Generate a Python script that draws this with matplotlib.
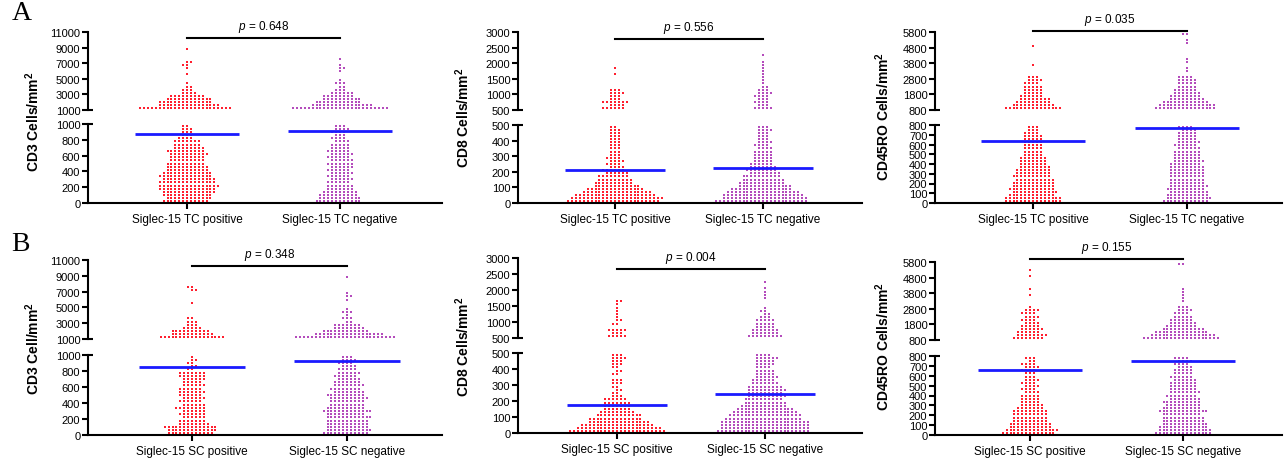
import numpy as np
import matplotlib.pyplot as plt

plt.rcParams['font.family'] = ['Liberation Sans', 'DejaVu Sans']
plt.rcParams['mathtext.fontset'] = 'custom'
plt.rcParams['mathtext.rm'] = 'Liberation Sans'
plt.rcParams['mathtext.it'] = 'Liberation Sans:italic'
plt.rcParams['mathtext.bf'] = 'Liberation Sans:bold'

W, H = 1285, 460

groups_tc = ['Siglec-15 TC positive', 'Siglec-15 TC negative']
groups_sc = ['Siglec-15 SC positive', 'Siglec-15 SC negative']

# y ranges of the broken axes (lower part, upper part)
cd3_low, cd3_high = (0, 1000), (1000, 11000)
cd8_low, cd8_high = (0, 500), (500, 3000)
cd45_low, cd45_high = (0, 800), (800, 5800)

cd3_ticks_low = [0, 200, 400, 600, 800, 1000]
cd3_ticks_high = [1000, 3000, 5000, 7000, 9000, 11000]
cd8_ticks_low = [0, 100, 200, 300, 400, 500]
cd8_ticks_high = [500, 1000, 1500, 2000, 2500, 3000]
cd45_ticks_low = [0, 100, 200, 300, 400, 500, 600, 700, 800]
cd45_ticks_high = [800, 1800, 2800, 3800, 4800, 5800]

# number of cases per row (25 rows per axis part, bottom to top)
cd3_tc_pos_low = [12, 12, 13, 14, 15, 16, 15, 14, 14, 13, 11, 11, 10, 9, 9, 10, 10, 8, 7, 7, 4, 3, 3, 3, 2]
cd3_tc_pos_high = [24, 16, 14, 12, 9, 4, 3, 2, 1, 0, 0, 1, 0, 1, 2, 2, 0, 0, 0, 1, 0, 0, 0, 0, 0]
cd3_tc_neg_low = [12, 11, 10, 9, 7, 7, 6, 6, 6, 6, 6, 6, 7, 6, 6, 6, 6, 5, 5, 4, 4, 3, 4, 4, 3]
cd3_tc_neg_high = [25, 16, 12, 10, 8, 6, 3, 2, 3, 1, 0, 0, 1, 2, 1, 0, 1, 0, 0, 0, 0, 0, 0, 0, 0]

cd8_tc_pos_low = [24, 24, 21, 18, 15, 12, 10, 9, 8, 6, 6, 4, 4, 4, 4, 3, 3, 3, 3, 3, 3, 3, 3, 3, 2]
cd8_tc_pos_high = [6, 4, 7, 3, 3, 4, 3, 0, 0, 0, 0, 1, 0, 1, 0, 0, 0, 0, 0, 0, 0, 0, 0, 0, 0]
cd8_tc_neg_low = [24, 22, 21, 19, 16, 14, 12, 11, 10, 8, 8, 7, 6, 5, 5, 5, 5, 4, 4, 4, 3, 3, 3, 4, 3]
cd8_tc_neg_high = [5, 3, 4, 3, 4, 4, 3, 2, 1, 1, 1, 1, 1, 1, 1, 1, 0, 1, 0, 0, 0, 0, 0, 0, 0]

cd45_tc_pos_low = [15, 15, 12, 12, 12, 11, 11, 10, 10, 9, 9, 8, 7, 7, 7, 5, 5, 5, 5, 5, 5, 5, 4, 3, 3]
cd45_tc_pos_high = [15, 11, 9, 8, 6, 5, 5, 5, 4, 4, 3, 0, 0, 0, 1, 0, 0, 0, 0, 0, 1, 0, 0, 0, 0]
cd45_tc_neg_low = [12, 12, 11, 10, 10, 10, 9, 9, 9, 9, 9, 9, 8, 8, 7, 7, 7, 6, 6, 6, 5, 5, 5, 4, 4]
cd45_tc_neg_high = [16, 15, 12, 9, 8, 7, 6, 5, 5, 5, 4, 0, 1, 1, 0, 1, 1, 0, 0, 0, 0, 1, 1, 0, 2]

cd3_sc_pos_low = [12, 13, 14, 8, 7, 6, 7, 6, 8, 6, 6, 6, 6, 7, 6, 6, 5, 6, 7, 7, 2, 2, 2, 2, 1]
cd3_sc_pos_high = [17, 11, 10, 5, 3, 3, 2, 0, 0, 0, 0, 1, 0, 0, 0, 2, 2, 0, 0, 0, 0, 0, 0, 0, 0]
cd3_sc_neg_low = [12, 12, 11, 11, 11, 12, 10, 13, 10, 9, 9, 10, 10, 8, 8, 8, 7, 6, 6, 6, 5, 4, 4, 4, 3]
cd3_sc_neg_high = [26, 18, 12, 8, 7, 2, 3, 1, 3, 1, 0, 0, 1, 2, 1, 0, 0, 0, 0, 1, 0, 0, 0, 0, 0]

cd8_sc_pos_low = [25, 22, 19, 16, 14, 12, 9, 7, 7, 7, 6, 3, 2, 2, 2, 3, 3, 0, 2, 2, 2, 3, 3, 4, 3]
cd8_sc_pos_high = [5, 3, 5, 0, 2, 2, 1, 1, 1, 1, 1, 2, 0, 0, 0, 0, 0, 0, 0, 0, 0, 0, 0, 0, 0]
cd8_sc_neg_low = [24, 23, 23, 23, 20, 19, 17, 15, 12, 11, 10, 10, 9, 10, 9, 7, 6, 6, 5, 5, 4, 5, 5, 6, 4]
cd8_sc_neg_high = [9, 7, 7, 5, 5, 5, 3, 2, 2, 1, 0, 0, 1, 1, 1, 1, 0, 1, 0, 0, 0, 0, 0, 0, 0]

cd45_sc_pos_low = [14, 14, 11, 11, 9, 9, 9, 9, 7, 6, 5, 5, 5, 4, 4, 4, 4, 4, 3, 3, 4, 4, 4, 2, 3]
cd45_sc_pos_high = [8, 8, 6, 6, 5, 4, 4, 4, 4, 4, 1, 0, 0, 0, 1, 0, 1, 0, 0, 0, 1, 0, 1, 0, 0]
cd45_sc_neg_low = [15, 14, 13, 12, 11, 11, 10, 13, 10, 9, 10, 8, 8, 8, 7, 7, 7, 6, 6, 5, 5, 4, 4, 4, 4]
cd45_sc_neg_high = [20, 17, 14, 11, 8, 7, 6, 5, 4, 4, 3, 0, 1, 1, 1, 1, 1, 0, 0, 0, 0, 0, 0, 0, 2]

# group means (blue lines)
cd3_tc_means = [873, 911]
cd8_tc_means = [212, 226]
cd45_tc_means = [639, 769]
cd3_sc_means = [846, 921]
cd8_sc_means = [175, 246]
cd45_sc_means = [661, 749]

p_values = ['0.648', '0.556', '0.035', '0.348', '0.004', '0.155']

red = '#ff1f2f'
purple = '#b44cbc'
blue = '#1a1aff'


def swarm(counts, rng):
    # one row of dots per count entry, spread on a column grid
    lo, hi = rng
    step = (hi - lo) / len(counts)
    xs, ys = [], []
    for i, n in enumerate(counts):
        sign = 1 if i % 2 else -1
        for k in range(n):
            off = (k + 1) // 2 * (sign if k % 2 else -sign)
            xs.append(off)
            ys.append(lo + (i + 0.5) * step)
    return np.array(xs, dtype=float), np.array(ys)


fig = plt.figure(figsize=(W / 100, H / 100), dpi=100)


def add_axes(x0, x1, top, bot):
    return fig.add_axes([x0 / W, 1 - bot / H, (x1 - x0) / W, (bot - top) / H])


# layout in pixels: axis x, right end, category x, upper part top/bottom, lower part top/bottom,
# y of the p-value bar, y-label position
layout = [
    (88, 442, 187, 340, 33, 111, 125, 204, 39, 33, 122),
    (518, 862, 615, 763, 33, 111, 126, 204, 40, 463, 118),
    (935, 1282, 1033, 1187, 33, 111, 126, 204, 32, 883, 116),
    (88, 442, 192, 347, 261, 340, 356, 436, 267, 33, 349),
    (518, 862, 617, 765, 259, 339, 354, 434, 270, 463, 347),
    (935, 1282, 1030, 1183, 263, 341, 357, 436, 260, 883, 346),
]

panels = [
    ('CD3 Cells/mm', groups_tc, cd3_low, cd3_high, cd3_ticks_low, cd3_ticks_high,
     [(cd3_tc_pos_low, cd3_tc_pos_high), (cd3_tc_neg_low, cd3_tc_neg_high)], cd3_tc_means),
    ('CD8 Cells/mm', groups_tc, cd8_low, cd8_high, cd8_ticks_low, cd8_ticks_high,
     [(cd8_tc_pos_low, cd8_tc_pos_high), (cd8_tc_neg_low, cd8_tc_neg_high)], cd8_tc_means),
    ('CD45RO Cells/mm', groups_tc, cd45_low, cd45_high, cd45_ticks_low, cd45_ticks_high,
     [(cd45_tc_pos_low, cd45_tc_pos_high), (cd45_tc_neg_low, cd45_tc_neg_high)], cd45_tc_means),
    ('CD3 Cell/mm', groups_sc, cd3_low, cd3_high, cd3_ticks_low, cd3_ticks_high,
     [(cd3_sc_pos_low, cd3_sc_pos_high), (cd3_sc_neg_low, cd3_sc_neg_high)], cd3_sc_means),
    ('CD8 Cells/mm', groups_sc, cd8_low, cd8_high, cd8_ticks_low, cd8_ticks_high,
     [(cd8_sc_pos_low, cd8_sc_pos_high), (cd8_sc_neg_low, cd8_sc_neg_high)], cd8_sc_means),
    ('CD45RO Cells/mm', groups_sc, cd45_low, cd45_high, cd45_ticks_low, cd45_ticks_high,
     [(cd45_sc_pos_low, cd45_sc_pos_high), (cd45_sc_neg_low, cd45_sc_neg_high)], cd45_sc_means),
]

for (ylab, cats, rlow, rhigh, tlow, thigh, counts, means), lay, pval in zip(panels, layout, p_values):
    axx, right, c1, c2, ht, hb, lt, lb, bar_px, lab_x, lab_y = lay
    unit = c2 - c1
    xlim = (1 - (c1 - axx) / unit, 1 + (right - c1) / unit)
    dx = 3.9 / unit

    ax_hi = add_axes(axx, right, ht, hb)
    ax_lo = add_axes(axx, right, lt, lb)

    for j, (clow, chigh) in enumerate(counts):
        col = red if j == 0 else purple
        for ax, cnt, rng in ((ax_lo, clow, rlow), (ax_hi, chigh, rhigh)):
            xo, yv = swarm(cnt, rng)
            ax.scatter(1 + j + xo * dx, yv, s=2.8, marker='s', color=col, linewidths=0, zorder=2)
        ax_lo.plot([1 + j - 0.34, 1 + j + 0.34], [means[j], means[j]], color=blue, lw=2, zorder=3,
                   solid_capstyle='butt')

    for ax in (ax_hi, ax_lo):
        ax.set_xlim(*xlim)
        ax.patch.set_visible(False)
        for s in ('top', 'right'):
            ax.spines[s].set_visible(False)
        ax.spines['left'].set_linewidth(1.5)
        ax.spines['bottom'].set_linewidth(1.5)
        ax.tick_params(axis='y', direction='out', length=4.5, width=1.5, labelsize=8, pad=1)

    ax_lo.set_ylim(*rlow)
    ax_hi.set_ylim(*rhigh)
    ax_lo.set_yticks(tlow)
    ax_hi.set_yticks(thigh)
    ax_hi.spines['bottom'].set_visible(False)
    ax_hi.set_xticks([])
    ax_lo.set_xticks([1, 2])
    ax_lo.set_xticklabels(cats, fontsize=8.5)
    ax_lo.tick_params(axis='x', direction='out', length=4, width=1.5, pad=3)

    # break marks crossing the axis line
    w_ax = right - axx
    ax_hi.plot([0, 5 / w_ax], [0, 0], transform=ax_hi.transAxes, color='black', lw=1.5,
               clip_on=False, solid_capstyle='butt')
    ax_lo.plot([0, 5 / w_ax], [1, 1], transform=ax_lo.transAxes, color='black', lw=1.5,
               clip_on=False, solid_capstyle='butt')

    # p-value bar
    bar_y = (hb - bar_px) / (hb - ht)
    tr = ax_hi.get_xaxis_transform()
    ax_hi.plot([1, 2], [bar_y, bar_y], transform=tr, color='black', lw=1.5, clip_on=False)
    ax_hi.annotate('$p$ = ' + pval, xy=(1.5, bar_y), xycoords=tr, xytext=(0, 8.8),
                   textcoords='offset points', ha='center', va='center', fontsize=8.5)

    fig.text(lab_x / W, 1 - lab_y / H, ylab + r'$^{\mathbf{2}}$', rotation=90, ha='center',
             va='center', fontsize=10, fontweight='bold')

fig.text(22 / W, 1 - 13 / H, 'A', family='Liberation Serif', fontsize=20, ha='center', va='center')
fig.text(20 / W, 1 - 245 / H, 'B', family='Liberation Serif', fontsize=20, ha='center', va='center')

fig.savefig('out.png', dpi=100)
